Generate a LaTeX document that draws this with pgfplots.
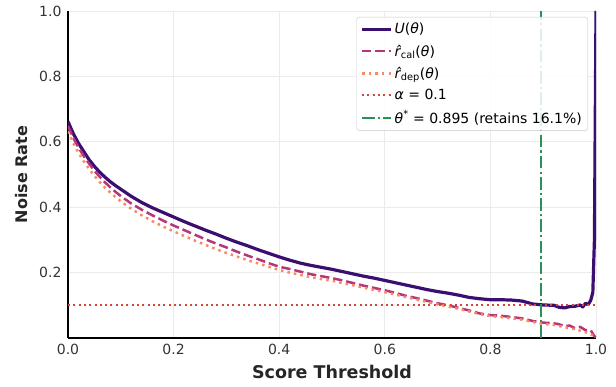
\documentclass[border=0pt]{standalone}
\usepackage{pgfplots}
\pgfplotsset{compat=1.18}
\usepackage{fontspec}
\setmainfont{DejaVu Sans}
\definecolor{cU}{HTML}{3B0F70}
\definecolor{cCal}{HTML}{B5367A}
\definecolor{cDep}{HTML}{FB8861}
\definecolor{cAlpha}{HTML}{D6443A}
\definecolor{cTheta}{HTML}{2A9159}
\definecolor{gridc}{HTML}{EBEBEB}
\pgfplotstableread{
x y
0.000 0.662
0.010 0.625
0.020 0.595
0.030 0.570
0.040 0.545
0.050 0.525
0.060 0.507
0.070 0.492
0.080 0.478
0.090 0.466
0.100 0.455
0.120 0.433
0.140 0.414
0.160 0.398
0.180 0.384
0.200 0.370
0.220 0.356
0.240 0.343
0.260 0.330
0.280 0.318
0.300 0.305
0.320 0.293
0.340 0.282
0.360 0.270
0.380 0.259
0.400 0.248
0.420 0.238
0.440 0.229
0.460 0.222
0.480 0.216
0.500 0.210
0.520 0.203
0.540 0.196
0.560 0.189
0.580 0.183
0.600 0.176
0.620 0.169
0.640 0.162
0.660 0.155
0.680 0.148
0.700 0.142
0.720 0.137
0.740 0.131
0.760 0.124
0.780 0.120
0.800 0.117
0.820 0.117
0.840 0.116
0.860 0.113
0.880 0.104
0.900 0.101
0.920 0.100
0.930 0.094
0.940 0.092
0.950 0.096
0.960 0.097
0.970 0.101
0.975 0.095
0.980 0.106
0.985 0.102
0.990 0.115
0.994 0.140
0.997 0.300
1.000 1.000
}\tabU
\pgfplotstableread{
x y
0.000 0.648
0.010 0.612
0.020 0.582
0.030 0.556
0.040 0.533
0.050 0.512
0.060 0.493
0.070 0.476
0.080 0.461
0.090 0.447
0.100 0.434
0.120 0.411
0.140 0.392
0.160 0.375
0.180 0.359
0.200 0.344
0.220 0.330
0.240 0.316
0.260 0.302
0.280 0.289
0.300 0.277
0.320 0.264
0.340 0.252
0.360 0.241
0.380 0.229
0.400 0.218
0.420 0.211
0.440 0.203
0.460 0.195
0.480 0.189
0.500 0.183
0.520 0.176
0.540 0.168
0.560 0.160
0.580 0.153
0.600 0.146
0.620 0.138
0.640 0.129
0.660 0.122
0.680 0.114
0.700 0.106
0.720 0.100
0.740 0.092
0.760 0.084
0.780 0.075
0.800 0.070
0.820 0.068
0.840 0.064
0.860 0.060
0.880 0.052
0.900 0.047
0.920 0.045
0.930 0.042
0.940 0.036
0.950 0.038
0.960 0.030
0.970 0.034
0.980 0.024
0.990 0.024
0.995 0.010
1.000 0.000
}\tabCal
\pgfplotstableread{
x y
0.000 0.632
0.010 0.596
0.020 0.566
0.030 0.540
0.040 0.517
0.050 0.496
0.060 0.477
0.070 0.460
0.080 0.445
0.090 0.431
0.100 0.418
0.120 0.395
0.140 0.375
0.160 0.357
0.180 0.341
0.200 0.326
0.220 0.312
0.240 0.298
0.260 0.285
0.280 0.272
0.300 0.260
0.320 0.249
0.340 0.238
0.360 0.228
0.380 0.218
0.400 0.208
0.420 0.200
0.440 0.193
0.460 0.186
0.480 0.180
0.500 0.175
0.520 0.168
0.540 0.161
0.560 0.154
0.580 0.147
0.600 0.140
0.620 0.133
0.640 0.125
0.660 0.118
0.680 0.110
0.700 0.103
0.720 0.096
0.740 0.089
0.760 0.081
0.780 0.073
0.800 0.067
0.820 0.064
0.840 0.060
0.860 0.056
0.880 0.049
0.900 0.043
0.920 0.040
0.940 0.033
0.960 0.027
0.980 0.018
0.990 0.012
1.000 0.000
}\tabDep
\begin{document}
\begin{tikzpicture}
\begin{axis}[
  scale only axis,
  width=528pt, height=327pt,
  xmin=0, xmax=1, ymin=0, ymax=1,
  axis x line*=bottom, axis y line*=left,
  axis line style={line width=1.2pt, -},
  xtick={0,0.2,0.4,0.6,0.8,1.0},
  ytick={0.2,0.4,0.6,0.8,1.0},
  major tick length=0pt,
  /pgf/number format/fixed,
  /pgf/number format/fixed zerofill,
  /pgf/number format/precision=1,
  /pgf/number format/assume math mode=true,
  ticklabel style={font=\fontsize{14}{16}\selectfont, text=black!80},
  xticklabel style={yshift=-3pt},
  yticklabel style={xshift=-3pt},
  grid=major,
  major grid style={gridc, line width=0.8pt},
  xlabel={\bfseries Score Threshold},
  ylabel={\bfseries Noise Rate},
  xlabel style={font=\fontsize{17.5}{20}\selectfont\bfseries, text=black!85, yshift=-3pt},
  ylabel style={font=\fontsize{16}{19}\selectfont\bfseries, text=black!85, yshift=5pt},
  legend style={at={(0.985,0.982)}, anchor=north east,
    font=\fontsize{14}{16}\selectfont, draw=black!22, rounded corners=3pt,
    fill=white, fill opacity=0.85, text opacity=1,
    row sep=5.5pt, inner xsep=4pt, inner ysep=4pt},
  legend cell align=left,
  legend image code/.code={\draw[#1] (0pt,0pt) -- (29pt,0pt);},
]
\addplot[cU, line width=3.2pt, line join=round] table[x=x,y=y]{\tabU};
\addlegendentry{\textit{U}(\textit{θ})}
\addplot[cCal, line width=2.5pt, dash pattern=on 9.25pt off 4pt] table[x=x,y=y]{\tabCal};
\addlegendentry{\textit{r̂}\textsubscript{cal}(\textit{θ})}
\addplot[cDep, line width=2.5pt, dash pattern=on 2.5pt off 4.1pt] table[x=x,y=y]{\tabDep};
\addlegendentry{\textit{r̂}\textsubscript{dep}(\textit{θ})}
\addplot[cAlpha, line width=2pt, dash pattern=on 2pt off 3.3pt] coordinates {(0,0.1) (1,0.1)};
\addlegendentry{\textit{α} = 0.1}
\addplot[cTheta, line width=2.1pt, dash pattern=on 12.5pt off 3.3pt on 2.1pt off 3.3pt] coordinates {(0.895,0) (0.895,1)};
\addlegendentry{\textit{θ}\textsuperscript{*} = 0.895 (retains 16.1\%)}
\end{axis}
\path ([xshift=-68pt,yshift=-49pt]current axis.south west) rectangle ([xshift=20pt,yshift=11pt]current axis.north east);
\end{tikzpicture}
\end{document}
